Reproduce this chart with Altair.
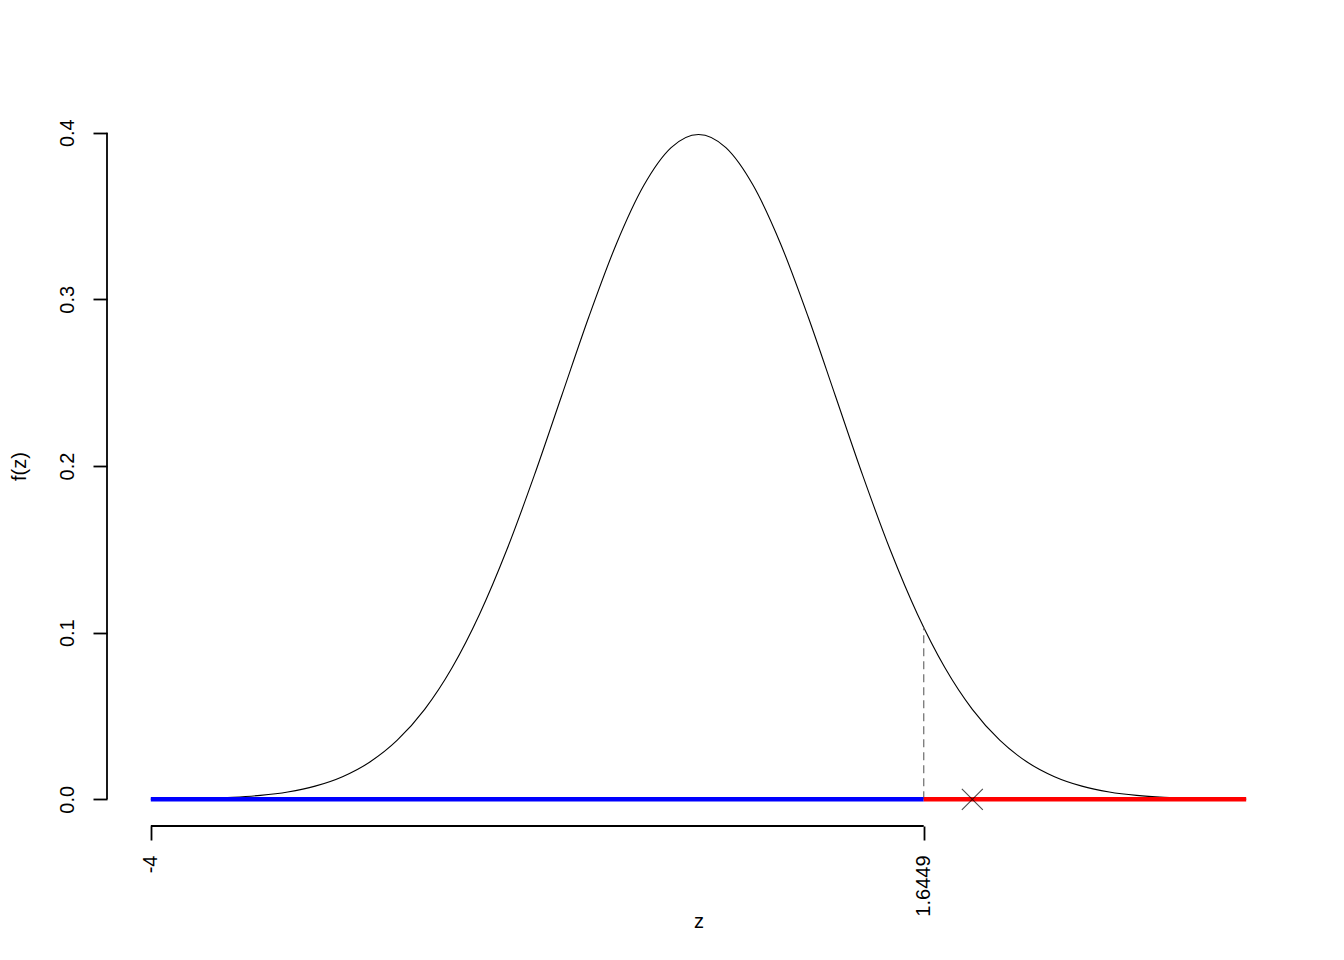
import altair as alt
import pandas as pd

# Standard normal density
z_vals = [-4.0, -3.8, -3.6, -3.4, -3.2, -3.0, -2.8, -2.6, -2.4, -2.2, -2.0,
          -1.8, -1.6, -1.4, -1.2, -1.0, -0.8, -0.6, -0.4, -0.2, 0.0,
          0.2, 0.4, 0.6, 0.8, 1.0, 1.2, 1.4, 1.6, 1.8, 2.0,
          2.2, 2.4, 2.6, 2.8, 3.0, 3.2, 3.4, 3.6, 3.8, 4.0]
f_vals = [0.000134, 0.000292, 0.000612, 0.001232, 0.002384, 0.004432, 0.007915, 0.013583, 0.022395, 0.035475, 0.053991,
          0.078950, 0.110921, 0.149727, 0.194186, 0.241971, 0.289692, 0.333225, 0.368270, 0.391043, 0.398942,
          0.391043, 0.368270, 0.333225, 0.289692, 0.241971, 0.194186, 0.149727, 0.110921, 0.078950, 0.053991,
          0.035475, 0.022395, 0.013583, 0.007915, 0.004432, 0.002384, 0.001232, 0.000612, 0.000292, 0.000134]

crit_z = 1.6449
crit_f = 0.1031
stat_z = 2.0

seg_start = [-4.0, 1.6449]
seg_end = [1.6449, 4.0]
seg_color = ["#0000FF", "#FF0000"]

x_ticks = [-4, 1.6449]
y_ticks = [0.0, 0.1, 0.2, 0.3, 0.4]

W, H = 1183, 720

curve_df = pd.DataFrame({"z": z_vals, "f": f_vals})
seg_df = pd.DataFrame({"x": seg_start, "x2": seg_end, "c": seg_color, "y": [0.0, 0.0]})
crit_df = pd.DataFrame({"z": [crit_z], "y": [0.0], "y2": [crit_f]})
stat_df = pd.DataFrame({"z": [stat_z], "y": [0.0]})

xscale = alt.Scale(domain=[-4.32, 4.32], nice=False, zero=False)
yscale = alt.Scale(domain=[-0.016, 0.416], nice=False, zero=False)

xaxis = alt.Axis(values=x_ticks, labelExpr="datum.value + ''", title="z",
                 domain=False, grid=False, ticks=True, tickSize=14, tickColor="black",
                 labelAngle=-90, labelAlign="right", labelBaseline="middle", labelPadding=15,
                 titleY=95, titleBaseline="middle")
yaxis = alt.Axis(values=y_ticks, format=".1f", title="f(z)",
                 domain=False, grid=False, ticks=True, tickSize=14, tickColor="black",
                 labelAngle=-90, labelAlign="center", labelBaseline="middle", labelPadding=26,
                 titleX=-88, titleBaseline="middle")

curve = alt.Chart(curve_df).mark_line(color="black", strokeWidth=1.1, interpolate="monotone").encode(
    x=alt.X("z:Q", scale=xscale, axis=xaxis),
    y=alt.Y("f:Q", scale=yscale, axis=yaxis),
)

dashed = alt.Chart(crit_df).mark_rule(color="#777777", strokeWidth=1.3, strokeDash=[8, 5]).encode(
    x=alt.X("z:Q", scale=xscale),
    y=alt.Y("y:Q", scale=yscale),
    y2="y2:Q",
)

segs = alt.Chart(seg_df).mark_rule(strokeWidth=4.5).encode(
    x=alt.X("x:Q", scale=xscale),
    x2="x2:Q",
    y=alt.Y("y:Q", scale=yscale),
    color=alt.Color("c:N", scale=None, legend=None),
)

stat = alt.Chart(stat_df).mark_point(
    shape="M-1,-1L1,1M-1,1L1,-1", size=441, filled=False, stroke="black", strokeWidth=1.1
).encode(
    x=alt.X("z:Q", scale=xscale),
    y=alt.Y("y:Q", scale=yscale),
)

# axis lines spanning only the tick range (R style)
xline = alt.Chart(pd.DataFrame({"a": [x_ticks[0]], "b": [x_ticks[-1]]})).mark_rule(color="black", strokeWidth=1.8).encode(
    x=alt.X("a:Q", scale=xscale), x2="b:Q", y=alt.value(H)
)
yline = alt.Chart(pd.DataFrame({"a": [y_ticks[0]], "b": [y_ticks[-1]]})).mark_rule(color="black", strokeWidth=1.8).encode(
    y=alt.Y("a:Q", scale=yscale), y2="b:Q", x=alt.value(0)
)

chart = alt.layer(curve, dashed, segs, stat, xline, yline).properties(
    width=W, height=H,
    autosize=alt.AutoSizeParams(type="none"),
    padding={"left": 99, "top": 98, "right": 40, "bottom": 120},
).configure_view(stroke=None).configure_axis(
    labelFont="Liberation Sans", titleFont="Liberation Sans",
    labelFontSize=20, titleFontSize=20, labelColor="black", titleColor="black",
    titleFontWeight="normal", tickWidth=1.8,
)

chart.save("out.html", embed_options={"renderer": "svg", "actions": False})
